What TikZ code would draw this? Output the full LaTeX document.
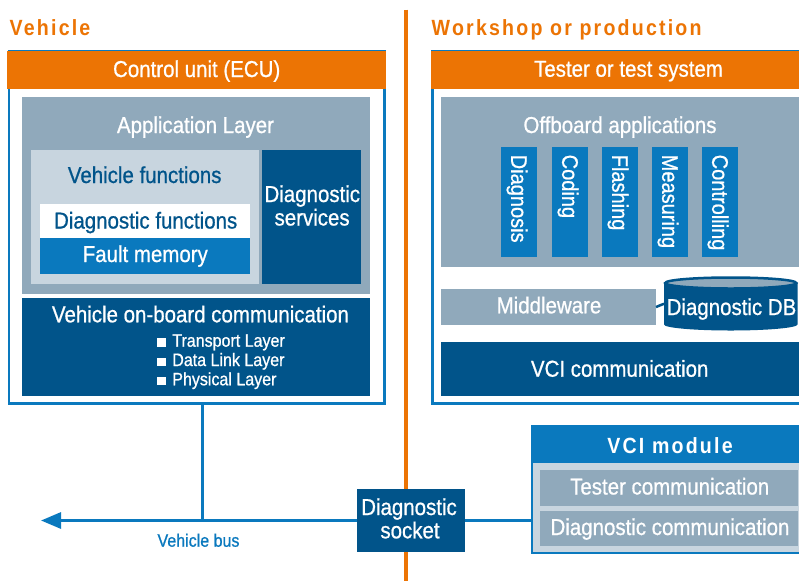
\documentclass[tikz,border=0pt]{standalone}
\usepackage{fontspec}
\setmainfont[FakeStretch=0.89,FakeBold=0.8]{Liberation Sans}
\newfontfamily\ttlfont[FakeStretch=0.89,LetterSpace=10]{Liberation Sans}
\usetikzlibrary{arrows.meta}
\definecolor{orng}{HTML}{EC7404}
\definecolor{blu}{HTML}{0A79BE}
\definecolor{dblue}{HTML}{01548A}
\definecolor{greyc}{HTML}{90A9BB}
\definecolor{lightc}{HTML}{C8D5DF}
\tikzset{
  bx/.style={rectangle, inner sep=0pt, outer sep=0pt, draw=none},
  frame/.style={bx, draw=blu, line width=2.5pt, fill=white},
  txt/.style={anchor=base, inner sep=0pt, outer sep=0pt, text=white, font=\fontsize{23}{24}\selectfont},
  small/.style={txt, font=\fontsize{18}{19}\selectfont},
  ttl/.style={anchor=base west, inner sep=0pt, text=orng, font=\ttlfont\bfseries\fontsize{22}{24}\selectfont},
  vtxt/.style={anchor=base west, rotate=-90, inner sep=0pt, text=white, font=\fontsize{22.5}{24}\selectfont},
  conn/.style={blu, line width=3pt}
}
\begin{document}
\begin{tikzpicture}[x=1pt,y=-1pt]
\useasboundingbox (0,0) rectangle (799,581);
\fill[white] (0,0) rectangle (799,581);

% divider
\draw[orng, line width=4pt] (405.5,9.5) -- (405.5,581);

% titles
\node[ttl] (veh) at (9.5,35) {Vehicle};
\node[ttl] (work) at (431.5,35) {Workshop or production};

% ---------- ECU ----------
\node[frame, minimum width=375.5pt, minimum height=352.5pt] (ecu) at (196.75,227.25) {};
\node[bx, fill=orng, minimum width=379pt, minimum height=38.6pt] (ecuh) at (196.5,70) {};
\node[txt] (ecut) at (196.7,77) {Control unit (ECU)};

\node[bx, fill=greyc, minimum width=348pt, minimum height=196.5pt] (app) at (196,195.25) {};
\node[txt] (appt) at (195.5,133) {Application Layer};

\node[bx, fill=lightc, minimum width=228pt, minimum height=133.5pt] (vf) at (145,216.75) {};
\node[txt, text=dblue] (vft) at (144.7,183) {Vehicle functions};

\node[bx, fill=dblue, minimum width=99pt, minimum height=133.5pt] (ds) at (311.5,216.75) {};
\node[txt] (dst1) at (312.3,202) {Diagnostic};
\node[txt] (dst2) at (312.1,225.5) {services};

\node[bx, fill=white, minimum width=210pt, minimum height=34pt] (df) at (145,221) {};
\node[txt, text=dblue] (dft) at (145.7,228.5) {Diagnostic functions};
\node[bx, fill=blu, minimum width=210pt, minimum height=35.5pt] (fm) at (145,255.75) {};
\node[txt] (fmt) at (145.3,262) {Fault memory};

\node[bx, fill=dblue, minimum width=348pt, minimum height=97.7pt] (vobc) at (196,346.85) {};
\node[txt] (vobct) at (200.5,322.3) {Vehicle on-board communication};
\node[small, anchor=base west] (b1) at (157.3,346.7) {\rule{8.5pt}{8.5pt}\hspace{6.5pt}Transport Layer};
\node[small, anchor=base west] (b2) at (157.3,366) {\rule{8.5pt}{8.5pt}\hspace{6.5pt}Data Link Layer};
\node[small, anchor=base west] (b3) at (157.3,385.3) {\rule{8.5pt}{8.5pt}\hspace{6.5pt}Physical Layer};

% ---------- Tester ----------
\node[frame, minimum width=397.5pt, minimum height=352.5pt] (tst) at (631.25,227.25) {};
\node[bx, fill=orng, minimum width=399pt, minimum height=38.6pt] (tsth) at (630.5,70) {};
\node[txt] (tstt) at (628.5,76.7) {Tester or test system};

\node[bx, fill=greyc, minimum width=389pt, minimum height=169.7pt] (off) at (635.5,181.85) {};
\node[txt] (offt) at (620,133) {Offboard applications};

\foreach \n/\x/\t in {a1/519/Diagnosis, a2/570/Coding, a3/620/Flashing, a4/670/Measuring, a5/720/Controlling}{
  \node[bx, fill=blu, minimum width=36pt, minimum height=109.7pt] (\n) at (\x,201.85) {};
  \node[vtxt] (\n t) at (\x-7.8,154.5) {\t};
}

\node[bx, fill=greyc, minimum width=215pt, minimum height=36pt] (mw) at (548.5,307) {};
\node[txt] (mwt) at (549,313.3) {Middleware};

% Diagnostic DB cylinder
\node[bx, minimum width=133.5pt, minimum height=53.5pt] (db) at (730.75,303.75) {};
\fill[dblue] (664,283) -- (664,324.5) arc[start angle=180, end angle=0, x radius=66.75, y radius=6] -- (797.5,283) -- cycle;
\filldraw[fill=greyc, draw=dblue, line width=2.5pt] (730.75,283) ellipse[x radius=65.5, y radius=5.5];
\node[txt] (dbt) at (731.5,315) {Diagnostic DB};
\draw[dblue, line width=2.5pt] (mw.east) -- (db.west);

\node[bx, fill=dblue, minimum width=389pt, minimum height=53.7pt] (vcic) at (635.5,368.85) {};
\node[txt] (vcict) at (619.7,376.7) {VCI communication};

% ---------- VCI module ----------
\node[bx, draw=blu, line width=2pt, fill=lightc, minimum width=298.5pt, minimum height=126.5pt] (vcim) at (680.75,489.25) {};
\node[bx, fill=blu, minimum width=299.5pt, minimum height=38pt] (vcih) at (680.25,444) {};
\node[txt, font=\ttlfont\bfseries\fontsize{22}{24}\selectfont] (vcimt) at (670,453.3) {VCI module};
\node[bx, fill=greyc, minimum width=258.5pt, minimum height=35.5pt] (tc) at (668.75,487.75) {};
\node[txt] (tct) at (669.7,494.5) {Tester communication};
\node[bx, fill=greyc, minimum width=258.5pt, minimum height=35.2pt] (dc) at (668.75,528.1) {};
\node[txt] (dct) at (670,535) {Diagnostic communication};

% ---------- socket & bus ----------
\node[bx, fill=dblue, minimum width=107.5pt, minimum height=62.7pt] (sock) at (410.75,520.5) {};
\node[txt] (sockt1) at (409,515) {Diagnostic};
\node[txt] (sockt2) at (410,538.3) {socket};

\coordinate (join) at (202.5,520.5);
\coordinate (busend) at (41,520.5);
\draw[conn] (ecu.south -| join) -- (join);
\draw[conn, -{Triangle[length=20pt,width=16pt]}] (sock.west) -- (busend);
\draw[conn] (sock.east) -- (sock.east -| vcim.west);
\node[small, text=blu] (busl) at (198.5,546.7) {Vehicle bus};
\end{tikzpicture}
\end{document}
